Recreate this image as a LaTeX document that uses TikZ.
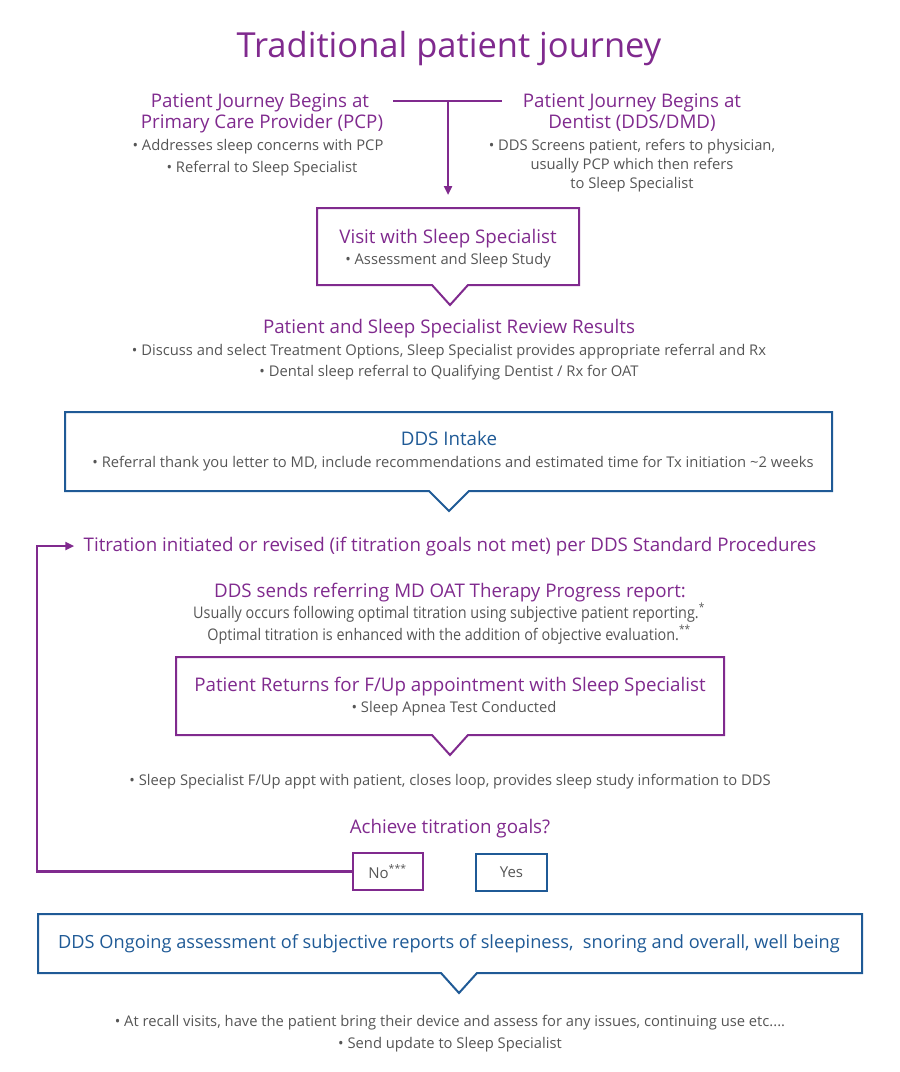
\documentclass[tikz,border=0pt]{standalone}
\usepackage{fontspec}
\setmainfont{Open Sans}
\newfontfamily\condfont[FakeStretch=0.9]{Open Sans}
\usetikzlibrary{arrows.meta}

\definecolor{jpurple}{RGB}{128,42,142}
\definecolor{jblue}{RGB}{31,90,150}
\definecolor{jgray}{RGB}{85,85,85}

\tikzset{every picture/.style={line width=0.75pt}}
\tikzset{
  headp/.style={text=jpurple, font=\fontsize{18.75}{22}\selectfont, inner sep=0pt, anchor=base},
  headb/.style={text=jblue, font=\fontsize{18.75}{22}\selectfont, inner sep=0pt, anchor=base},
  item/.style={text=jgray, font=\fontsize{14.75}{17}\selectfont, inner sep=0pt, anchor=base},
  conditem/.style={text=jgray, font=\condfont\fontsize{16}{18}\selectfont, inner sep=0pt, anchor=base},
  pbox/.style={draw=jpurple, line width=2pt, line join=miter},
  bbox/.style={draw=jblue, line width=2pt, line join=miter},
  link/.style={draw=jpurple, line width=2.5pt, -{Triangle[length=9pt,width=8pt]}},
}

\begin{document}
\begin{tikzpicture}[x=1pt,y=1pt,yscale=-1]
\useasboundingbox (0,0) rectangle (900,1072);

% Title
\node [text=jpurple, font=\fontsize{34.5}{40}\selectfont, inner sep=0pt, anchor=base] (title) at (449,57) {Traditional patient journey};

% Text Node: start at PCP
\node [headp] (pcpA) at (260,107) {Patient Journey Begins at};
\node [headp] (pcpB) at (262,128) {Primary Care Provider (PCP)};
\node [item] (pcpC) at (258,150) {• Addresses sleep concerns with PCP};
\node [item] (pcpD) at (262,172) {• Referral to Sleep Specialist};

% Text Node: start at dentist
\node [headp] (ddsA) at (632,107) {Patient Journey Begins at};
\node [headp] (ddsB) at (632,128) {Dentist (DDS/DMD)};
\node [item] (ddsC) at (632,150) {• DDS Screens patient, refers to physician,};
\node [item] (ddsD) at (632,169) {usually PCP which then refers};
\node [item] (ddsE) at (632,188) {to Sleep Specialist};

%Shape: Callout (sleep specialist visit)
\draw [pbox] (317,208) -- (579,208) -- (579,285) -- (468,285) -- (450,305) -- (432,285) -- (317,285) -- cycle;
\node [headp] (visitA) at (448,243) {Visit with Sleep Specialist};
\node [item] (visitB) at (448,264) {• Assessment and Sleep Study};
\coordinate (visit) at (448,195);

%Straight Lines: joining the two starts
\coordinate (fork) at (448,101);
\draw [jpurple, line width=2.5pt] (393,101) -- (502,101);
\draw [link] (fork) -- (visit);

% Text Node: review results
\node [headp] (revA) at (449,333) {Patient and Sleep Specialist Review Results};
\node [item] (revB) at (449,355) {• Discuss and select Treatment Options, Sleep Specialist provides appropriate referral and Rx};
\node [item] (revC) at (449,376) {• Dental sleep referral to Qualifying Dentist / Rx for OAT};

%Shape: Callout (DDS intake)
\draw [bbox] (65,412) -- (832,412) -- (832,491) -- (469,491) -- (449,511) -- (429,491) -- (65,491) -- cycle;
\node [headb] (intakeA) at (449,445) {DDS Intake};
\node [item] (intakeB) at (453,467) {• Referral thank you letter to MD, include recommendations and estimated time for Tx initiation \textasciitilde 2 weeks};

% Text Node: titration
\node [headp] (titr) at (450,551) {Titration initiated or revised (if titration goals not met) per DDS Standard Procedures};

% Text Node: progress report
\node [headp] (repA) at (450,597) {DDS sends referring MD OAT Therapy Progress report:};
\node [conditem] (repB) at (449,618) {Usually occurs following optimal titration using subjective patient reporting.\textsuperscript{*}};
\node [conditem] (repC) at (449,640) {Optimal titration is enhanced with the addition of objective evaluation.\textsuperscript{**}};

%Shape: Callout (follow up)
\draw [pbox] (176,657) -- (724,657) -- (724,735) -- (468,735) -- (450,755) -- (432,735) -- (176,735) -- cycle;
\node [headp] (fupA) at (450,691) {Patient Returns for F/Up appointment with Sleep Specialist};
\node [item] (fupB) at (454,712) {• Sleep Apnea Test Conducted};

% Text Node: closes loop
\node [item] (loop) at (450,785) {• Sleep Specialist F/Up appt with patient, closes loop, provides sleep study information to DDS};

% Text Node: decision
\node [headp] (goal) at (450,833) {Achieve titration goals?};
\node [pbox, text=jgray, font=\fontsize{15}{17}\selectfont, minimum width=70pt, minimum height=37pt, inner sep=0pt] (no) at (387.5,871.5) {No\textsuperscript{***}};
\node [bbox, text=jgray, font=\fontsize{15}{17}\selectfont, minimum width=71pt, minimum height=37pt, inner sep=0pt] (yes) at (511.5,872) {Yes};

%Straight Lines: back to titration
\draw [link, line join=miter] (no.west) -- (37,871.5) |- ([xshift=-9pt]titr.west);

%Shape: Callout (ongoing assessment)
\draw [bbox] (38,914) -- (862,914) -- (862,973) -- (477,973) -- (459,993) -- (441,973) -- (38,973) -- cycle;
\node [headb, font=\fontsize{18.2}{22}\selectfont] (ongo) at (449,948) {DDS Ongoing assessment of subjective reports of sleepiness,\ \ snoring and overall, well being};

% Text Node: recall
\node [item] (recA) at (450,1026) {• At recall visits, have the patient bring their device and assess for any issues, continuing use etc....};
\node [item] (recB) at (450,1048) {• Send update to Sleep Specialist};

\end{tikzpicture}
\end{document}
